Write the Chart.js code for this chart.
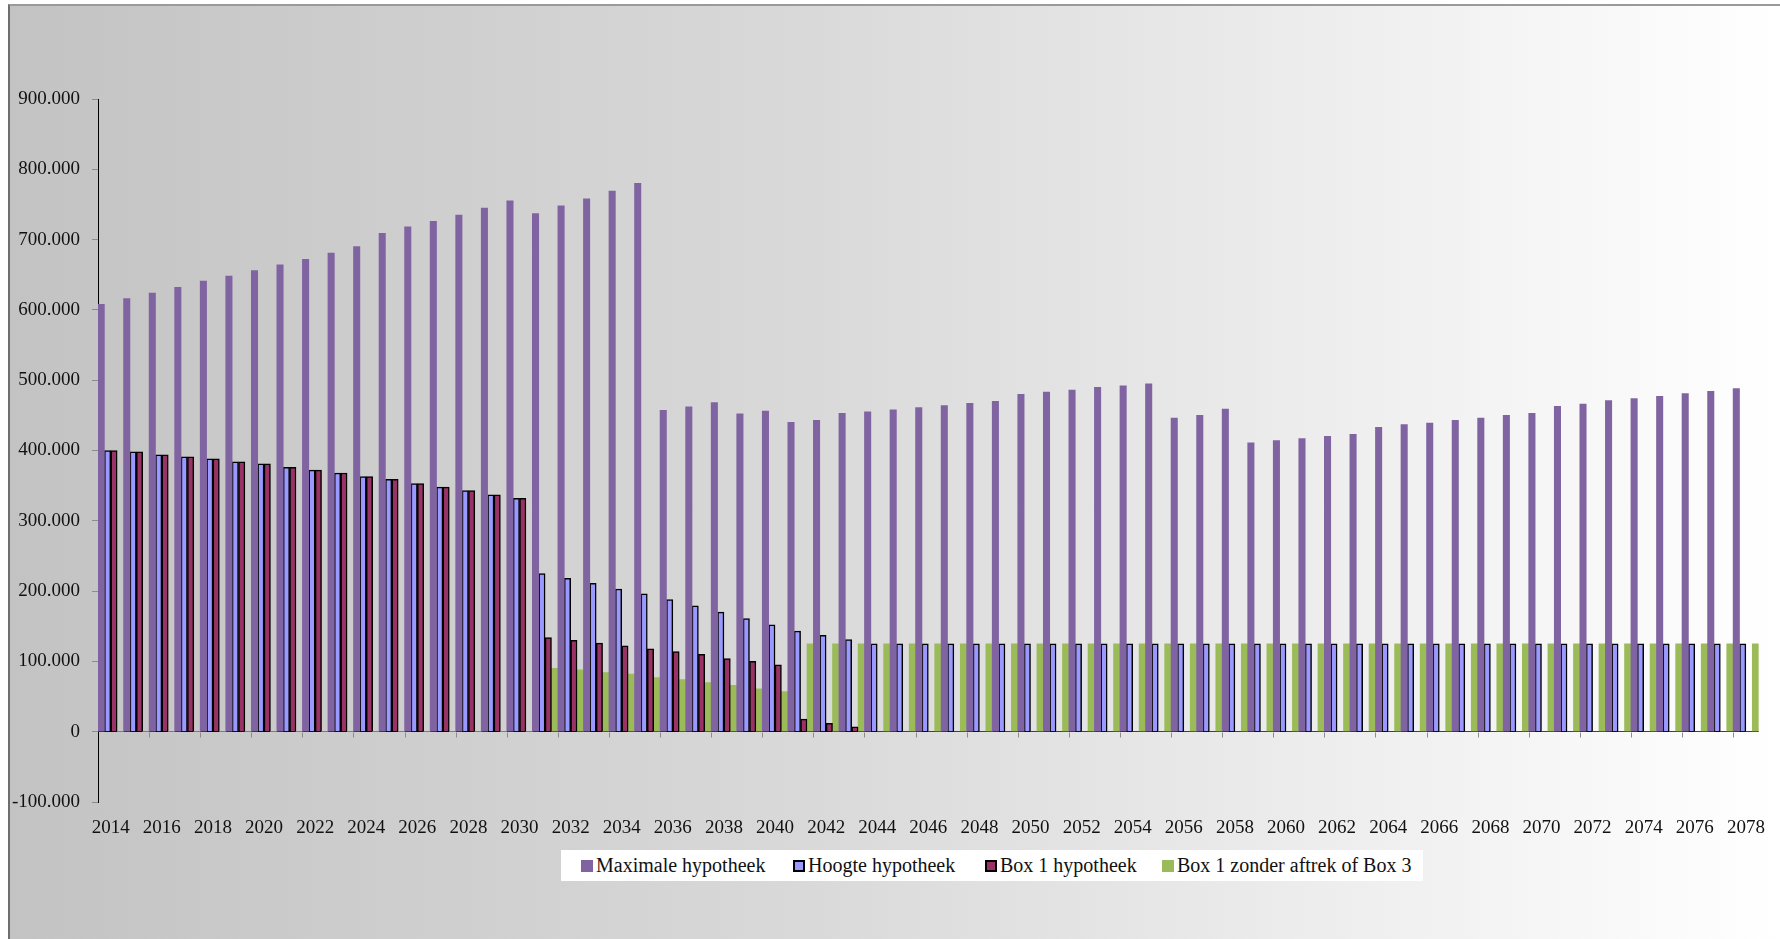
<!DOCTYPE html>
<html lang="nl">
<head>
<meta charset="utf-8">
<title>Hypotheek</title>
<script src="https://cdn.jsdelivr.net/npm/chart.js"></script>
<style>
  html, body { margin: 0; padding: 0; background: #fff; }
  body { width: 1780px; height: 939px; position: relative; overflow: hidden; font-family: "Liberation Serif", serif; }
  #bg {
    position: absolute; left: 8px; top: 4px; right: 0; bottom: 0;
    border-left: 2px solid #6e6e6e; border-top: 2px solid #9a9a9a;
    background: linear-gradient(to right, #c3c3c3 0%, #d9d9d9 45%, #ffffff 100%);
  }
  #chart { position: absolute; left: 0; top: 0; }
  #legend {
    position: absolute; left: 561px; top: 850px; width: 862px; height: 31px;
    background: #fff;
  }
  .item { position: absolute; top: 0; height: 31px; display: flex; align-items: center; font-size: 20px; color: #111; white-space: nowrap; }
  .box { width: 12px; height: 12px; box-sizing: border-box; margin-right: 3px; }
</style>
</head>
<body>
<div id="bg"></div>
<canvas id="chart" width="1780" height="939"></canvas>
<div id="legend"></div>
<script>
  const years = [
    2014, 2015, 2016, 2017, 2018, 2019, 2020, 2021, 2022, 2023, 2024, 2025, 2026,
    2027, 2028, 2029, 2030, 2031, 2032, 2033, 2034, 2035, 2036, 2037, 2038, 2039,
    2040, 2041, 2042, 2043, 2044, 2045, 2046, 2047, 2048, 2049, 2050, 2051, 2052,
    2053, 2054, 2055, 2056, 2057, 2058, 2059, 2060, 2061, 2062, 2063, 2064, 2065,
    2066, 2067, 2068, 2069, 2070, 2071, 2072, 2073, 2074, 2075, 2076, 2077, 2078
  ];

  // Maximale hypotheek
  const maxHypotheek = [
    608000, 616000, 624000, 632000, 641000, 648000, 656000, 664000, 672000, 681000, 690000, 709000, 718000,
    726000, 735000, 745000, 755000, 737000, 748000, 758000, 769000, 780000, 457000, 462000, 468000, 452000,
    456000, 440000, 443000, 453000, 455000, 458000, 461000, 464000, 467000, 470000, 480000, 483000, 486000,
    490000, 492000, 495000, 446000, 450000, 459000, 411000, 414000, 417000, 420000, 423000, 433000, 437000,
    439000, 443000, 446000, 450000, 453000, 463000, 466000, 471000, 474000, 477000, 481000, 484000, 488000
  ];

  // Hoogte hypotheek
  const hoogteHypotheek = [
    400000, 398000, 394000, 391000, 388000, 384000, 381000, 376000, 372000, 368000, 363000, 359000, 353000,
    348000, 343000, 337000, 332000, 225000, 218000, 211000, 203000, 196000, 188000, 179000, 170000, 161000,
    152000, 143000, 137000, 131000, 125000, 125000, 125000, 125000, 125000, 125000, 125000, 125000, 125000,
    125000, 125000, 125000, 125000, 125000, 125000, 125000, 125000, 125000, 125000, 125000, 125000, 125000,
    125000, 125000, 125000, 125000, 125000, 125000, 125000, 125000, 125000, 125000, 125000, 125000, 125000
  ];

  // Box 1 hypotheek
  const box1Hypotheek = [
    400000, 398000, 394000, 391000, 388000, 384000, 381000, 376000, 372000, 368000, 363000, 359000, 353000,
    348000, 343000, 337000, 332000, 134000, 130000, 126000, 122000, 118000, 114000, 110000, 104000, 100000,
    95000, 18000, 12000, 7000, 0, 0, 0, 0, 0, 0, 0, 0, 0,
    0, 0, 0, 0, 0, 0, 0, 0, 0, 0, 0, 0, 0,
    0, 0, 0, 0, 0, 0, 0, 0, 0, 0, 0, 0, 0
  ];

  // Box 1 zonder aftrek of Box 3
  const box1ZonderAftrek = [
    0, 0, 0, 0, 0, 0, 0, 0, 0, 0, 0, 0, 0,
    0, 0, 0, 0, 90000, 88000, 84000, 82000, 77000, 74000, 70000, 66000, 61000,
    57000, 125000, 125000, 125000, 125000, 125000, 125000, 125000, 125000, 125000, 125000, 125000, 125000,
    125000, 125000, 125000, 125000, 125000, 125000, 125000, 125000, 125000, 125000, 125000, 125000, 125000,
    125000, 125000, 125000, 125000, 125000, 125000, 125000, 125000, 125000, 125000, 125000, 125000, 125000
  ];

  const yTicks = { min: -100000, max: 900000, step: 100000 };

  const series = [
    { label: 'Maximale hypotheek', data: maxHypotheek, color: '#8064a2', border: 0, legendLeft: 20 },
    { label: 'Hoogte hypotheek', data: hoogteHypotheek, color: '#9999ff', border: 1.5, legendLeft: 232 },
    { label: 'Box 1 hypotheek', data: box1Hypotheek, color: '#993366', border: 1.5, legendLeft: 424 },
    { label: 'Box 1 zonder aftrek of Box 3', data: box1ZonderAftrek, color: '#9bbb59', border: 0, legendLeft: 601 }
  ];

  // 숫자 포맷 (900.000)
  const fmt = v => (v < 0 ? '-' : '') + Math.abs(v).toString().replace(/\B(?=(\d{3})+(?!\d))/g, '.');

  // 0-lijn tick marks tussen de jaren
  const xTickMarks = {
    id: 'xTickMarks',
    afterDraw(chart) {
      const { ctx, scales: { x, y } } = chart;
      const y0 = Math.round(y.getPixelForValue(0)) + 0.5;
      ctx.save();
      ctx.strokeStyle = '#8c8c8c';
      ctx.lineWidth = 1;
      for (let i = 2; i < years.length; i += 2) {
        const px = Math.round(x.getPixelForValue(i - 0.5)) + 0.5;
        ctx.beginPath();
        ctx.moveTo(px, y0);
        ctx.lineTo(px, y0 + 5);
        ctx.stroke();
      }
      ctx.restore();
    }
  };

  Chart.defaults.font.family = '"Liberation Serif", serif';
  Chart.defaults.font.size = 19;
  Chart.defaults.color = '#111';

  new Chart(document.getElementById('chart'), {
    type: 'bar',
    data: {
      labels: years.map(String),
      datasets: series.map(s => ({
        label: s.label,
        data: s.data,
        backgroundColor: s.color,
        borderColor: '#000',
        // geen rand voor lege balken
        borderWidth: c => (c.raw ? s.border : 0),
        categoryPercentage: 1,
        barPercentage: 1
      }))
    },
    options: {
      responsive: false,
      animation: false,
      layout: { padding: { left: 8, top: 99, right: 14, bottom: 0 } },
      plugins: {
        legend: { display: false },
        tooltip: { enabled: false }
      },
      scales: {
        x: {
          grid: { display: false, drawTicks: false },
          border: { display: false },
          ticks: {
            autoSkip: false,
            maxRotation: 0,
            minRotation: 0,
            padding: 15,
            callback: function (val, i) { return i % 2 === 0 ? this.getLabelForValue(val) : ''; }
          },
          afterFit: scale => { scale.height = 137; }
        },
        y: {
          min: yTicks.min,
          max: yTicks.max,
          ticks: { stepSize: yTicks.step, padding: 12, callback: v => fmt(v) },
          grid: {
            color: c => (c.tick && c.tick.value === 0 ? '#000' : 'rgba(0,0,0,0)'),
            tickColor: '#8c8c8c',
            tickLength: 6
          },
          border: { display: true, color: '#000', width: 1 },
          afterFit: scale => { scale.width = 90; }
        }
      }
    },
    plugins: [xTickMarks]
  });

  // legenda
  const legend = document.getElementById('legend');
  series.forEach(s => {
    const item = document.createElement('div');
    item.className = 'item';
    item.style.left = s.legendLeft + 'px';
    const box = document.createElement('span');
    box.className = 'box';
    box.style.background = s.color;
    if (s.border) box.style.border = '2px solid #000';
    item.appendChild(box);
    item.appendChild(document.createTextNode(s.label));
    legend.appendChild(item);
  });
</script>
</body>
</html>
